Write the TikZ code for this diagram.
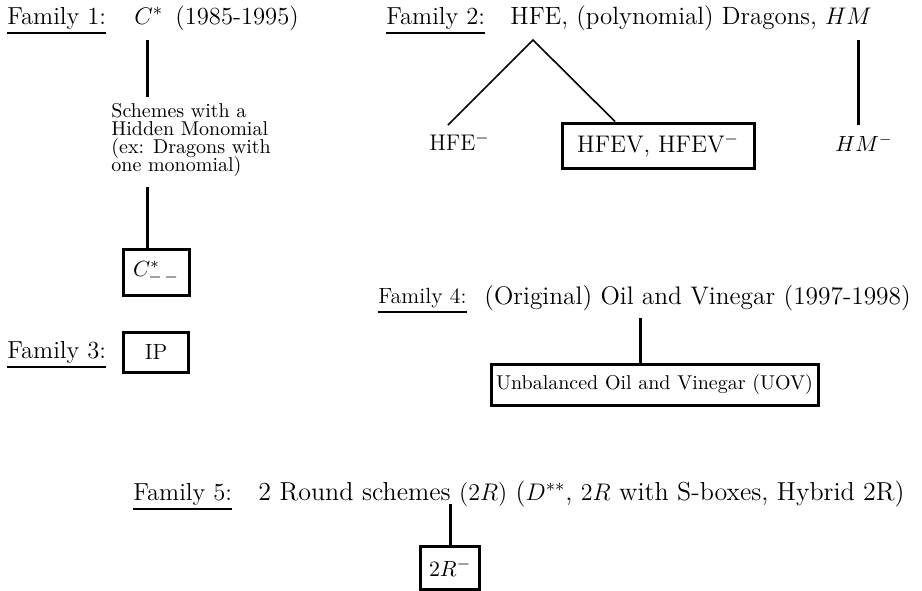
\documentclass[tikz,border=0pt]{standalone}
\newcommand\tightschemefont{\fontsize{10}{9}\selectfont\lineskiplimit=-20pt\relax\lineskip=0pt\relax}
\begin{document}
\begin{tikzpicture}[x=0.5pt,y=-0.5pt,
  big/.style={font=\fontsize{12.3}{15}\selectfont},
  fam/.style={big,inner xsep=0pt,inner ysep=2pt,anchor=west},
  ul/.style={line width=1pt},
  lbl/.style={big,anchor=west,inner sep=0pt},
  boxed/.style={draw,line width=1.5pt,inner sep=0pt},
  vline/.style={line width=1.5pt},
  dline/.style={line width=0.8pt}]
\useasboundingbox (0,0) rectangle (922,590);
% Family 1
\node[fam] (f1) at (7,18) {Family 1:};
\draw[ul] (f1.south west) -- (f1.south east);
\node[lbl] (c) at (134,18) {$C^*$\enspace(1985-1995)};
\node[anchor=north west,inner sep=0pt,align=left,font=\tightschemefont] (sch) at (111,103)
  {Schemes with a\\Hidden Monomial\\(ex: Dragons with\\one monomial)};
\node[boxed,minimum width=33pt,minimum height=23pt,font=\fontsize{11}{13}\selectfont] (cm) at (156,272) {$C^*_{-\,-}$};
\coordinate (c1) at (147,40);
\coordinate (c2) at (147,97);
\coordinate (c3) at (147,187);
\draw[vline] (c1) -- (c2);
\draw[vline] (c3) -- (c3 |- cm.north);
% Family 2
\node[fam] (f2) at (386,18) {Family 2:};
\draw[ul] (f2.south west) -- (f2.south east);
\node[lbl,font=\fontsize{12.5}{15}\selectfont] (hfe) at (510,18) {HFE, (polynomial) Dragons, $HM$};
\coordinate (apex) at (533,40);
\node[anchor=west,inner sep=0pt,font=\fontsize{11.3}{13}\selectfont] (hfem) at (429,142) {HFE$^-$};
\node[boxed,minimum width=96pt,minimum height=22.5pt,font=\fontsize{12}{14}\selectfont] (hfev) at (658,145.5) {HFEV, HFEV$^-$};
\node[anchor=west,inner sep=0pt,font=\fontsize{10.5}{12}\selectfont] (hmm) at (835,143) {$HM^-$};
\coordinate (hm1) at (858,40);
\coordinate (l1) at (448,125);
\draw[dline] (l1) -- (apex) -- (615,122 |- hfev.north);
\draw[vline] (hm1) -- (858,125);
% Family 3
\node[fam] (f3) at (7,352) {Family 3:};
\draw[ul] (f3.south west) -- (f3.south east);
\node[boxed,minimum width=32.5pt,minimum height=20pt,font=\fontsize{11}{13}\selectfont] (ip) at (156,352) {IP};
% Family 4
\node[fam,font=\fontsize{11}{13}\selectfont] (f4) at (378,298) {Family 4:};
\draw[ul] (f4.south west) -- (f4.south east);
\node[lbl,font=\fontsize{12.7}{15}\selectfont] (ov) at (484,298) {(Original) Oil and Vinegar (1997-1998)};
\node[boxed,minimum width=163.5pt,minimum height=20.5pt] (uov) at (654.5,384.5) {Unbalanced Oil and Vinegar (UOV)};
\coordinate (o1) at (640,318);
\draw[vline] (o1) -- (o1 |- uov.north);
% Family 5
\node[fam] (f5) at (133,494) {Family 5:};
\draw[ul] (f5.south west) -- (f5.south east);
\node[lbl,font=\fontsize{13}{15}\selectfont] (tr) at (258,494) {2 Round schemes $(2R)$ ($D^{**}$, $2R$ with S-boxes, Hybrid 2R)};
\node[boxed,minimum width=29.5pt,minimum height=21.5pt,font=\fontsize{11}{13}\selectfont] (tm) at (450,567.5) {$2R^-$};
\coordinate (t1) at (450,504);
\draw[vline] (t1) -- (tm.north);
\end{tikzpicture}
\end{document}
